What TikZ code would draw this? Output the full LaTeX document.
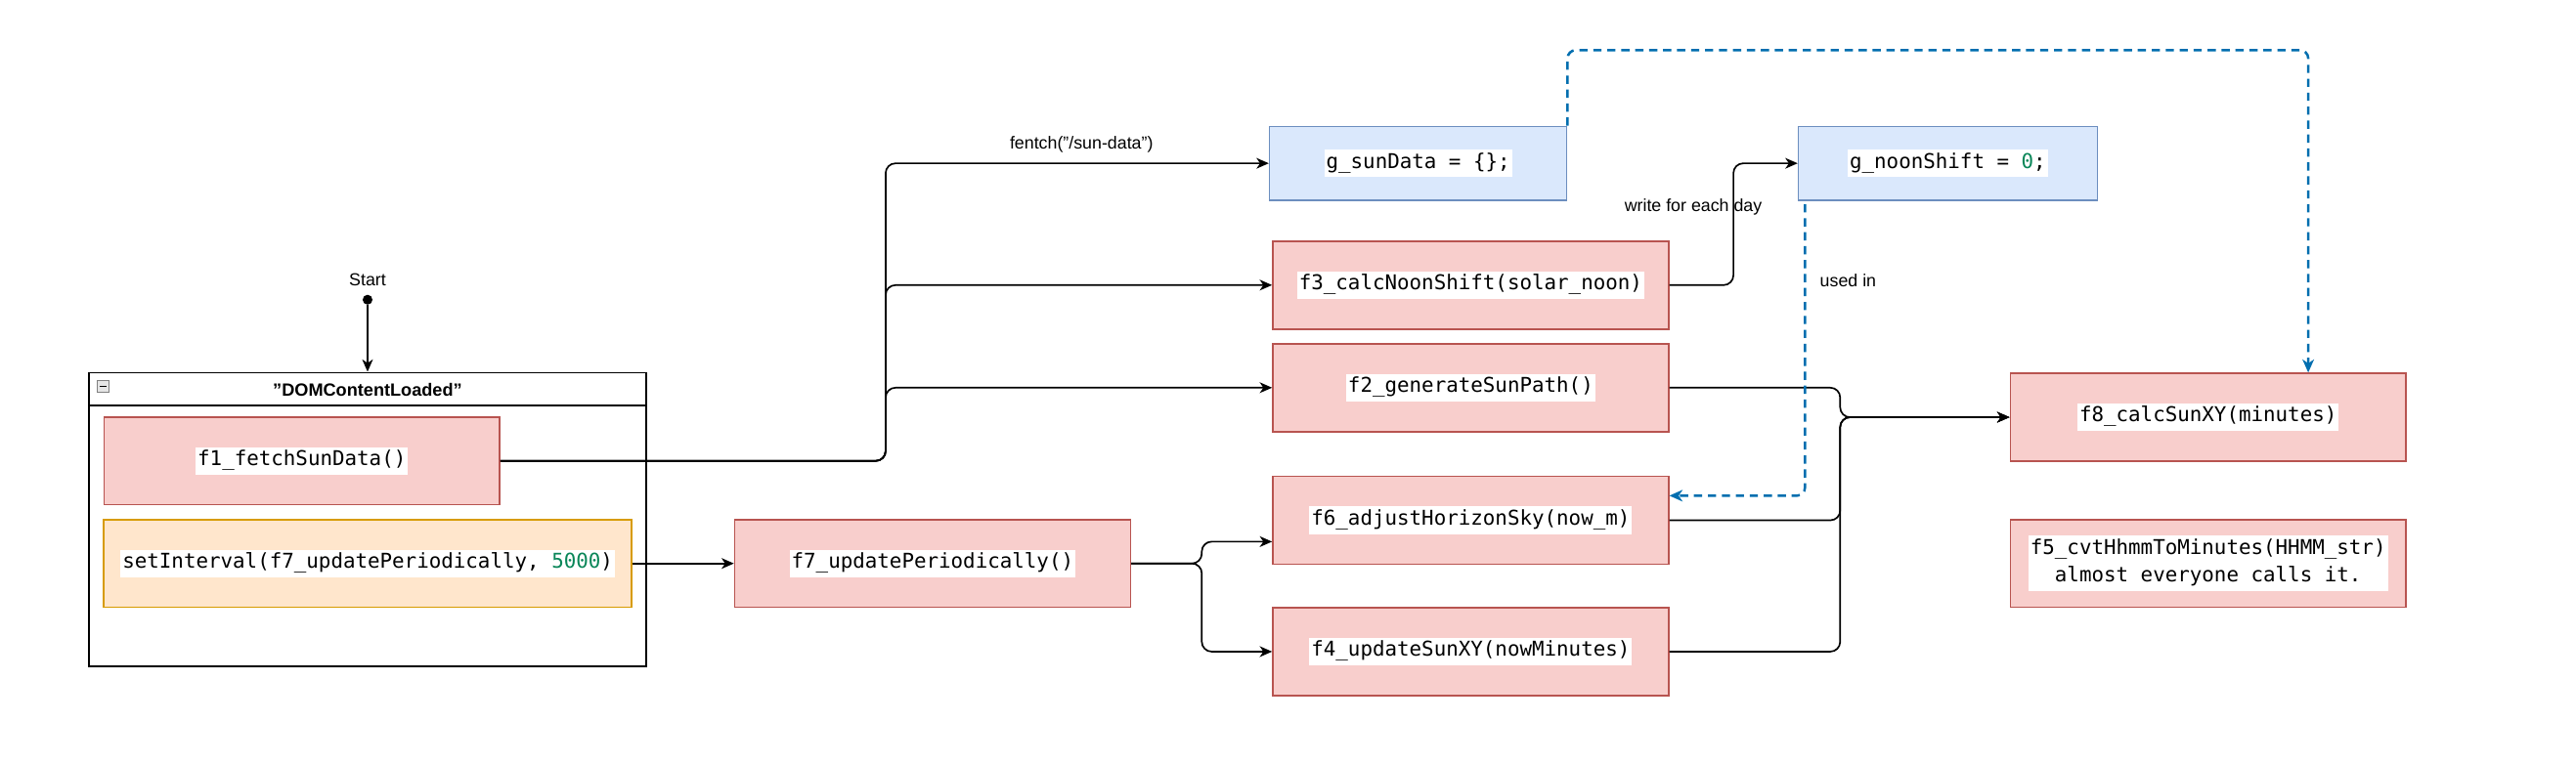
\documentclass[tikz,border=0pt]{standalone}
\usepackage{fontspec}
\setmainfont{Liberation Sans}
\setmonofont{DejaVu Sans Mono}
\usepackage{tikz}
\usetikzlibrary{arrows.meta,positioning,calc}
\definecolor{fnfill}{HTML}{F8CECC}
\definecolor{fnborder}{HTML}{B85450}
\definecolor{varfill}{HTML}{DAE8FC}
\definecolor{varborder}{HTML}{6C8EBF}
\definecolor{timerfill}{HTML}{FFE6CC}
\definecolor{timerborder}{HTML}{D79B00}
\definecolor{useblue}{HTML}{006EAF}
\definecolor{numgreen}{HTML}{098658}
\setlength{\fboxsep}{1.2pt}
\tikzset{
    codetext/.style={font=\fontsize{12.4}{14.5}\selectfont\ttfamily},
    fnbox/.style={codetext, draw=fnborder, fill=fnfill, line width=0.9pt, minimum width=241pt, minimum height=53.5pt, inner sep=0pt},
    varbox/.style={codetext, draw=varborder, fill=varfill, line width=0.9pt, minimum width=181pt, minimum height=45pt, inner sep=0pt},
    timerbox/.style={codetext, draw=timerborder, fill=timerfill, line width=0.9pt, minimum width=321.5pt, minimum height=53.5pt, inner sep=0pt},
    lbl/.style={font=\fontsize{10.6}{12}\selectfont, inner sep=0pt},
    conn/.style={line width=1pt, rounded corners=6pt, -{Stealth[length=7.5pt,width=6.5pt,inset=2.2pt]}},
    useconn/.style={draw=useblue, line width=1.5pt, dash pattern=on 5pt off 3.5pt, rounded corners=5pt, -{Stealth[length=8pt,width=7pt,inset=2.4pt]}},
}

\begin{document}
\begin{tikzpicture}[x=1pt,y=-1pt]
\useasboundingbox (0,0) rectangle (1568.5,465.5);

\node[draw, line width=1pt, minimum width=339pt, minimum height=179pt, inner sep=0pt] (dom) at (223.8,316.5) {};
\draw[line width=1pt] ([yshift=-20.6pt]dom.north west) -- ([yshift=-20.6pt]dom.north east);
\node[lbl, font=\fontsize{10.8}{12}\selectfont\bfseries] (domtitle) at (223.8,237.5) {"DOMContentLoaded"};
\node[draw=gray, fill=gray!20, minimum size=7pt, inner sep=0pt] (collapse) at (62.8,235.3) {};
\draw[line width=0.8pt] ([xshift=1.5pt]collapse.west) -- ([xshift=-1.5pt]collapse.east);

\node[lbl] (startlbl) at (223.8,170.6) {Start};
\node[circle, fill, inner sep=0pt, minimum size=6pt] (startdot) at (223.8,182.6) {};
\draw[conn] (startdot) -- (dom.north);

\node[fnbox] (f1) at (183.8,280.8) {\colorbox{white}{\strut f1\_fetchSunData()}};
\node[timerbox] (timer) at (223.9,343.3) {\colorbox{white}{\strut setInterval(f7\_updatePeriodically, {\color{numgreen}5000})}};
\node[fnbox] (f7) at (567.8,343.3) {\colorbox{white}{\strut f7\_updatePeriodically()}};

\node[varbox] (gsun) at (863.5,99.5) {\colorbox{white}{\strut g\_sunData = \{\};}};
\node[fnbox] (f3) at (895.5,173.7) {\colorbox{white}{\strut f3\_calcNoonShift(solar\_noon)}};
\node[fnbox] (f2) at (895.5,236.2) {\colorbox{white}{\strut f2\_generateSunPath()}};
\node[fnbox] (f6) at (895.5,317) {\colorbox{white}{\strut f6\_adjustHorizonSky(now\_m)}};
\node[fnbox] (f4) at (895.5,397) {\colorbox{white}{\strut f4\_updateSunXY(nowMinutes)}};

\node[varbox, minimum width=182pt] (gnoon) at (1186,99.5) {\colorbox{white}{\strut g\_noonShift = {\color{numgreen}0};}};
\node[fnbox] (f8) at (1344.5,254.2) {\colorbox{white}{\strut f8\_calcSunXY(minutes)}};
\node[fnbox] (f5) at (1344.5,343.3) {\colorbox{white}{\begin{tabular}{@{}c@{}}f5\_cvtHhmmToMinutes(HHMM\_str)\\[2.5pt] almost everyone calls it.\end{tabular}}};

\draw[conn] (f1.east) -- ++(234.5,0) |- (gsun.west);
\draw[conn] (f1.east) -- ++(234.5,0) |- (f3.west);
\draw[conn] (f1.east) -- ++(234.5,0) |- (f2.west);
\node[lbl] (fetchlbl) at (658.5,88) {fentch("/sun-data")};

\draw[conn] (timer.east) -- (f7.west);
\draw[conn] (f7.east) -- ++(43,0) |- ([yshift=-13pt]f6.west);
\draw[conn] (f7.east) -- ++(43,0) |- (f4.west);

\draw[conn] (f3.east) -- ++(39,0) |- (gnoon.west);
\node[lbl] (writelbl) at (1031,126) {write for each day};

\draw[conn] (f2.east) -- ++(104,0) |- (f8.west);
\draw[conn] (f6.east) -- ++(104,0) |- (f8.west);
\draw[conn] (f4.east) -- ++(104,0) |- (f8.west);

\draw[useconn] (gsun.north east) -- ++(0,-46) -| ([xshift=-60pt]f8.north east);
\draw[useconn] ([xshift=4.5pt,yshift=-2pt]gnoon.south west) |- ([yshift=15pt]f6.east);
\node[lbl, anchor=west] (usedlbl) at (1108,171) {used in};

\end{tikzpicture}
\end{document}
